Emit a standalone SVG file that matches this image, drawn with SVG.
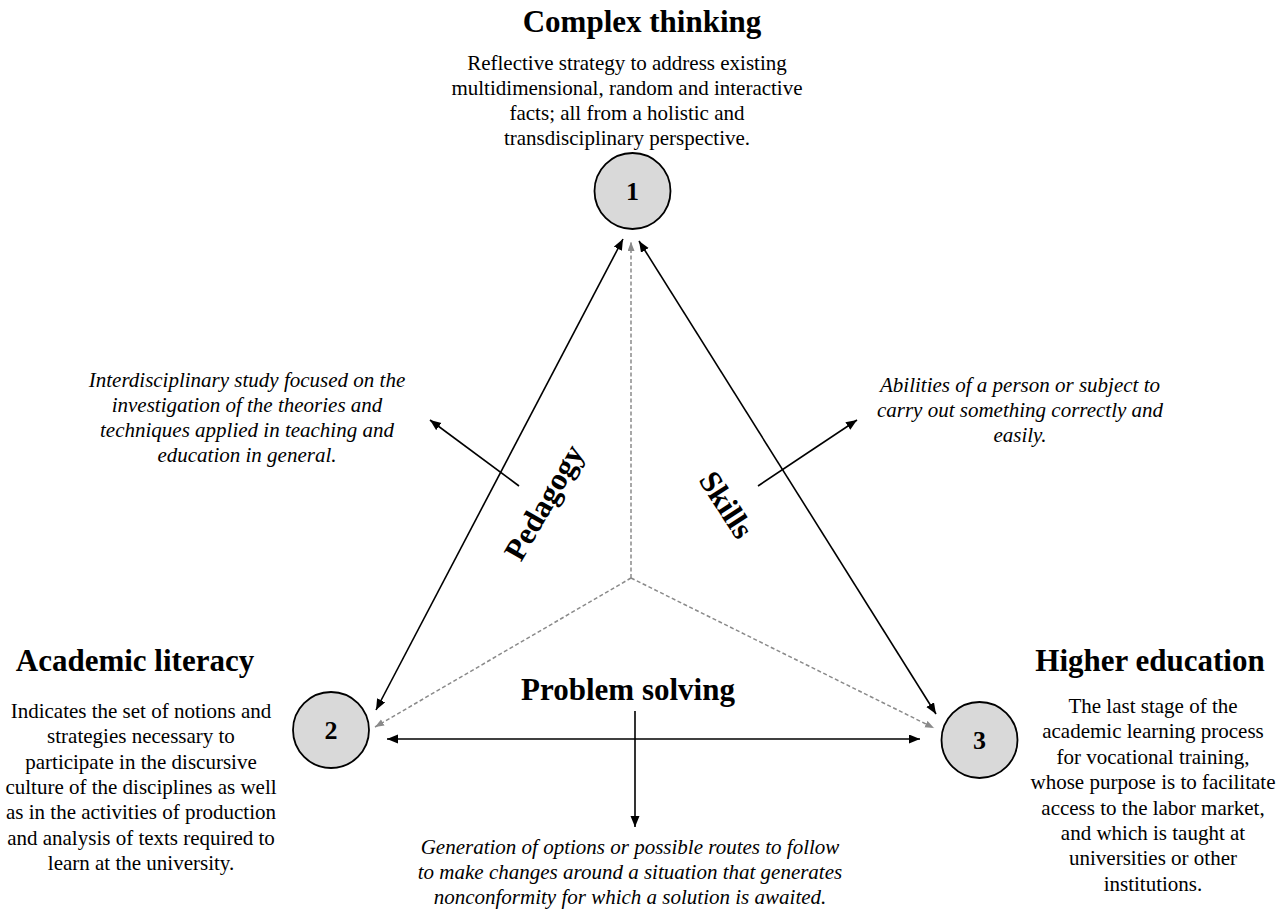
<svg xmlns="http://www.w3.org/2000/svg" width="1285" height="912" viewBox="0 0 1285 912">
<style>
text{font-family:"Liberation Serif","Times New Roman",serif;fill:#000}
.title{font-size:31px;font-weight:bold;text-anchor:middle}
.desc{font-size:21px;text-anchor:middle}
.it{font-size:21px;font-style:italic;text-anchor:middle}
.num{font-size:26px;font-weight:bold;text-anchor:middle}
.circ{fill:#d9d9d9;stroke:#000;stroke-width:1.8}
.arr{stroke:#000;stroke-width:1.6;fill:none}
.dash{stroke:#8a8a8a;stroke-width:1.5;stroke-dasharray:4 2.5;fill:none}
</style>
<defs>
<marker id="ah" markerUnits="userSpaceOnUse" markerWidth="12" markerHeight="10" refX="11" refY="4.5" orient="auto-start-reverse">
<path d="M0,0 L11,4.5 L0,9 z" fill="#000"/>
</marker>
<marker id="gh" markerUnits="userSpaceOnUse" markerWidth="10" markerHeight="8" refX="9" refY="3.5" orient="auto">
<path d="M0,0 L9,3.5 L0,7 z" fill="#8a8a8a"/>
</marker>
</defs>
<g id="connectors">
<line class="dash" x1="631" y1="578" x2="631" y2="242" marker-end="url(#gh)"/>
<line class="dash" x1="631" y1="578" x2="375" y2="727" marker-end="url(#gh)"/>
<line class="dash" x1="631" y1="578" x2="934" y2="728" marker-end="url(#gh)"/>
<line class="arr" x1="623" y1="239" x2="376" y2="710" marker-start="url(#ah)" marker-end="url(#ah)"/>
<line class="arr" x1="639" y1="241" x2="936" y2="714" marker-start="url(#ah)" marker-end="url(#ah)"/>
<line class="arr" x1="387" y1="739" x2="920" y2="739" marker-start="url(#ah)" marker-end="url(#ah)"/>
<line class="arr" x1="635" y1="711" x2="635" y2="827" marker-end="url(#ah)"/>
<line class="arr" x1="519" y1="486" x2="430" y2="420" marker-end="url(#ah)"/>
<line class="arr" x1="758" y1="486" x2="857" y2="420" marker-end="url(#ah)"/>
</g>
<g id="node1">
<circle class="circ" cx="632.5" cy="191" r="38"/>
<text class="num" x="632.5" y="200">1</text>
</g>
<g id="node2">
<circle class="circ" cx="331" cy="730" r="38"/>
<text class="num" x="331" y="739">2</text>
</g>
<g id="node3">
<circle class="circ" cx="979.5" cy="740" r="38"/>
<text class="num" x="979.5" y="749">3</text>
</g>
<g id="complex-thinking">
<text class="title" x="642" y="32">Complex thinking</text>
<text class="desc"><tspan x="627" y="70">Reflective strategy to address existing</tspan><tspan x="627" y="95">multidimensional, random and interactive</tspan><tspan x="627" y="120">facts; all from a holistic and</tspan><tspan x="627" y="145">transdisciplinary perspective.</tspan></text>
</g>
<g id="academic-literacy">
<text class="title" x="135" y="671">Academic literacy</text>
<text class="desc"><tspan x="141" y="718">Indicates the set of notions and</tspan><tspan x="141" y="743.3">strategies necessary to</tspan><tspan x="141" y="768.6">participate in the discursive</tspan><tspan x="141" y="793.9">culture of the disciplines as well</tspan><tspan x="141" y="819.2">as in the activities of production</tspan><tspan x="141" y="844.5">and analysis of texts required to</tspan><tspan x="141" y="869.8">learn at the university.</tspan></text>
</g>
<g id="higher-education">
<text class="title" x="1150" y="671">Higher education</text>
<text class="desc"><tspan x="1153" y="713">The last stage of the</tspan><tspan x="1153" y="738.4">academic learning process</tspan><tspan x="1153" y="763.8">for vocational training,</tspan><tspan x="1153" y="789.2">whose purpose is to facilitate</tspan><tspan x="1153" y="814.6">access to the labor market,</tspan><tspan x="1153" y="840">and which is taught at</tspan><tspan x="1153" y="865.4">universities or other</tspan><tspan x="1153" y="890.8">institutions.</tspan></text>
</g>
<g id="problem-solving">
<text class="title" x="628" y="700">Problem solving</text>
<text class="it"><tspan x="630" y="854">Generation of options or possible routes to follow</tspan><tspan x="630" y="879">to make changes around a situation that generates</tspan><tspan x="630" y="904">nonconformity for which a solution is awaited.</tspan></text>
</g>
<g id="pedagogy">
<text class="title" transform="translate(545,503) rotate(-60)" x="0" y="9">Pedagogy</text>
<text class="it"><tspan x="247" y="387">Interdisciplinary study focused on the</tspan><tspan x="247" y="412">investigation of the theories and</tspan><tspan x="247" y="437">techniques applied in teaching and</tspan><tspan x="247" y="462">education in general.</tspan></text>
</g>
<g id="skills">
<text class="title" transform="translate(726,505) rotate(57)" x="0" y="10">Skills</text>
<text class="it"><tspan x="1020" y="392">Abilities of a person or subject to</tspan><tspan x="1020" y="417">carry out something correctly and</tspan><tspan x="1020" y="442">easily.</tspan></text>
</g>
</svg>
